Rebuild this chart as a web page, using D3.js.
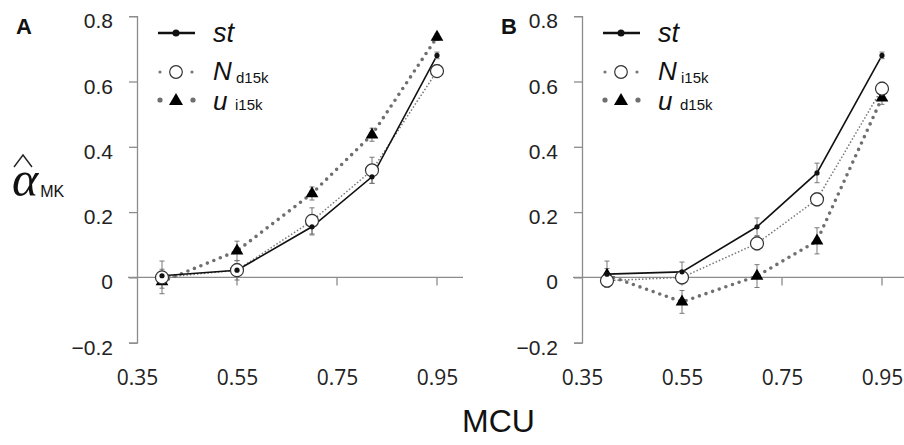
<!DOCTYPE html>
<html>
<head>
<meta charset="utf-8">
<script src="https://cdn.jsdelivr.net/npm/d3@7"></script>
<style>
  body{margin:0;background:#fff;}
  svg{display:block;}
</style>
</head>
<body>
<svg id="chart" width="904" height="445"></svg>
<script>
// MCU values (x) shared by both panels
const mcu=[0.4,0.55,0.7,0.82,0.95];
const xTicks=[0.35,0.55,0.75,0.95];
const yTicks=[-0.2,0,0.2,0.4,0.6,0.8];

// panel A
const stA=[0.005,0.022,0.155,0.308,0.68];
const stAErr=[0.02,0.02,0.025,0.02,0.01];
const nA=[0.0,0.022,0.173,0.328,0.632];
const nAErr=[0.05,0.03,0.04,0.04,0.02];
const uA=[-0.013,0.081,0.257,0.437,0.736];
const uAErr=[0.02,0.03,0.02,0.02,0.01];

// panel B
const stB=[0.01,0.017,0.155,0.32,0.68];
const stBErr=[0.04,0.03,0.027,0.03,0.01];
const nB=[-0.01,0.0,0.104,0.239,0.578];
const nBErr=[0.02,0.02,0.02,0.02,0.02];
const uB=[0.007,-0.075,0.004,0.112,0.55];
const uBErr=[0.02,0.035,0.035,0.04,0.02];

const panels=[
  {label:"A",x0:137,st:stA,stErr:stAErr,n:nA,nErr:nAErr,u:uA,uErr:uAErr,nSub:"d15k",uSub:"i15k"},
  {label:"B",x0:582,st:stB,stErr:stBErr,n:nB,nErr:nBErr,u:uB,uErr:uBErr,nSub:"i15k",uSub:"d15k"}
];

const svg=d3.select("#chart");
const axisCol="#8c8c8c",lineCol="#6f6f6f",txt="#222";
const ff="'Liberation Sans',Arial,sans-serif";

const y=d3.scaleLinear().domain([-0.2,0.8]).range([342.7,16.2]);

panels.forEach(p=>{
  const x=d3.scaleLinear().domain([0.35,0.95]).range([p.x0,p.x0+300]);
  const g=svg.append("g");

  // x axis line through zero, ticks hang below
  g.append("line")
    .attr("x1",x(0.332)).attr("x2",x(1.002))
    .attr("y1",y(0)).attr("y2",y(0))
    .attr("stroke",axisCol).attr("stroke-width",1.3);
  g.selectAll(".xt").data(xTicks.slice(1)).join("line")
    .attr("x1",d=>x(d)).attr("x2",d=>x(d))
    .attr("y1",y(0)).attr("y2",y(0)+8)
    .attr("stroke",axisCol).attr("stroke-width",1.3);

  // x labels sit at the bottom
  const xl=g.append("g").attr("transform",`translate(0,${y(-0.2)})`)
    .call(d3.axisBottom(x).tickValues(xTicks).tickSize(0).tickPadding(27).tickFormat(d3.format(".2f")));
  xl.select(".domain").remove();
  xl.selectAll("text").attr("font-family","'Open Sans',sans-serif").attr("font-size",21).attr("fill",txt);

  // y axis
  const ya=g.append("g").attr("transform",`translate(${p.x0},0)`)
    .call(d3.axisLeft(y).tickValues(yTicks).tickSize(8).tickPadding(16).tickSizeOuter(8)
      .tickFormat(d=>d===0?"0":d3.format(".1f")(d)));
  ya.select(".domain").attr("stroke",axisCol).attr("stroke-width",1.3);
  ya.selectAll(".tick line").attr("stroke",axisCol).attr("stroke-width",1.3);
  ya.selectAll("text").attr("font-family",ff)
    .attr("font-size",21).attr("fill",txt).attr("dy","0.55em");

  const line=d3.line().x((d,i)=>x(mcu[i])).y(d=>y(d));

  // u: heavy round dots
  g.append("path").datum(p.u).attr("d",line).attr("fill","none")
    .attr("stroke",lineCol).attr("stroke-width",3.6)
    .attr("stroke-linecap","round").attr("stroke-dasharray","0 7");
  // N: fine dots
  g.append("path").datum(p.n).attr("d",line).attr("fill","none")
    .attr("stroke","#777").attr("stroke-width",1.5).attr("stroke-dasharray","1.5 2");
  // st: solid
  g.append("path").datum(p.st).attr("d",line).attr("fill","none")
    .attr("stroke","#111").attr("stroke-width",1.6);

  // error bars
  [[p.u,p.uErr],[p.n,p.nErr],[p.st,p.stErr]].forEach(([v,e])=>{
    const eg=g.append("g").attr("stroke","#777").attr("stroke-width",1);
    v.forEach((d,i)=>{
      const cx=x(mcu[i]),top=y(d+e[i]),bot=y(d-e[i]);
      eg.append("line").attr("x1",cx).attr("x2",cx).attr("y1",top).attr("y2",bot);
      eg.append("line").attr("x1",cx-2.5).attr("x2",cx+2.5).attr("y1",top).attr("y2",top);
      eg.append("line").attr("x1",cx-2.5).attr("x2",cx+2.5).attr("y1",bot).attr("y2",bot);
    });
  });

  // markers
  const tri=d3.symbol().type(d3.symbolTriangle).size(70);
  g.selectAll(".tri").data(p.u).join("path")
    .attr("d",tri).attr("transform",(d,i)=>`translate(${x(mcu[i])},${y(d)})`).attr("fill","#000");
  g.selectAll(".circ").data(p.n).join("circle")
    .attr("cx",(d,i)=>x(mcu[i])).attr("cy",d=>y(d)).attr("r",6.5)
    .attr("fill","#fff").attr("stroke","#333").attr("stroke-width",1.2);
  g.selectAll(".dot").data(p.st).join("circle")
    .attr("cx",(d,i)=>x(mcu[i])).attr("cy",d=>y(d)).attr("r",2.6).attr("fill","#111");

  // panel letter
  svg.append("text").attr("x",p.label==="A"?16:501).attr("y",34)
    .attr("font-family",ff).attr("font-weight","bold")
    .attr("font-size",22).attr("fill","#111").text(p.label);

  // legend
  const lx=p.x0+21,tx=lx+55;
  const lg=svg.append("g");
  lg.append("line").attr("x1",lx).attr("x2",lx+37).attr("y1",33).attr("y2",33)
    .attr("stroke","#111").attr("stroke-width",2.6);
  lg.append("circle").attr("cx",lx+18).attr("cy",33).attr("r",3.5).attr("fill","#111");
  [lx+2,lx+34].forEach(cx=>lg.append("circle").attr("cx",cx).attr("cy",72).attr("r",1.6).attr("fill","#777"));
  lg.append("circle").attr("cx",lx+18).attr("cy",72).attr("r",6.3)
    .attr("fill","#fff").attr("stroke","#333").attr("stroke-width",1.2);
  [lx+2,lx+35].forEach(cx=>lg.append("circle").attr("cx",cx).attr("cy",100).attr("r",2.6).attr("fill","#6f6f6f"));
  lg.append("path").attr("d",d3.symbol().type(d3.symbolTriangle).size(85))
    .attr("transform",`translate(${lx+18},101)`).attr("fill","#000");

  lg.append("text").attr("x",tx).attr("y",42).attr("font-family",ff).attr("font-style","italic")
    .attr("font-size",27).attr("fill","#111").text("st");
  // main letter and subscript as separate texts
  lg.append("text").attr("x",tx).attr("y",80).attr("font-family",ff).attr("font-style","italic")
    .attr("font-size",26).attr("fill","#111").text("N");
  lg.append("text").attr("x",tx+23).attr("y",83).attr("font-family",ff)
    .attr("font-size",15).attr("fill","#111").text(p.nSub);
  lg.append("text").attr("x",tx).attr("y",110).attr("font-family",ff).attr("font-style","italic")
    .attr("font-size",26).attr("fill","#111").text("u");
  lg.append("text").attr("x",tx+22).attr("y",110).attr("font-family",ff)
    .attr("font-size",15).attr("fill","#111").text(p.uSub);
});

// y title: alpha hat with MK subscript
svg.append("path").attr("d","M14,167 L23,155 L32,167").attr("fill","none")
  .attr("stroke","#222").attr("stroke-width",1.4);
const yt=svg.append("text").attr("x",12).attr("y",196).attr("fill","#111");
yt.append("tspan").attr("font-family","'Liberation Serif',serif").attr("font-style","italic")
  .attr("font-size",50).text("α");
yt.append("tspan").attr("font-family",ff).attr("font-size",16)
  .attr("dx",2).attr("dy",1).text("MK");

// x title
svg.append("text").attr("x",462).attr("y",432)
  .attr("font-family",ff).attr("font-size",32)
  .attr("fill","#111").text("MCU");
</script>
</body>
</html>
